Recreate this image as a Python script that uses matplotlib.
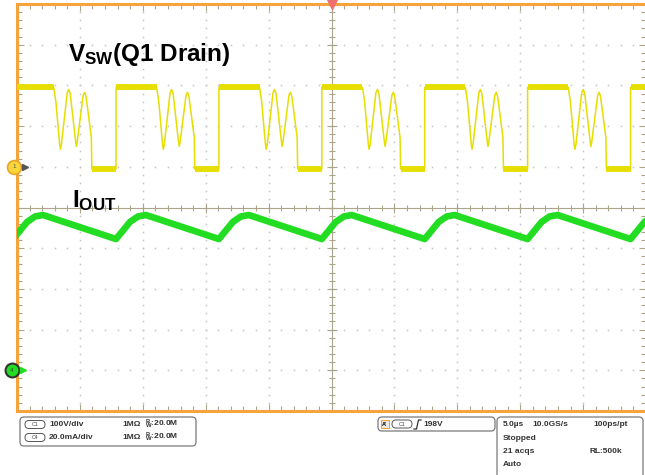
import matplotlib
matplotlib.use("Agg")
import matplotlib.pyplot as plt
from matplotlib.patches import FancyBboxPatch, Rectangle
import numpy as np

W, H = 645, 475

plt.rcParams['font.family'] = ['Liberation Sans', 'DejaVu Sans']
plt.rcParams['mathtext.fontset'] = 'custom'
plt.rcParams['mathtext.rm'] = 'Liberation Sans:bold'
plt.rcParams['mathtext.bf'] = 'Liberation Sans:bold'
plt.rcParams['mathtext.it'] = 'Liberation Sans:bold'

# scope setup (10 x 10 divisions)
TIME_SPAN = 50.0          # 5.0 us/div
C1_YLIM = (-600, 400)     # 100 V/div, ground 6 div up
C4_YLIM = (-20, 180)      # 20 mA/div, ground 1 div up

# C1: switch node voltage (V) vs time (us), one row per switching cycle
vsw_t = [-0.31, -0.31, 2.92, 3.09, 3.39, 3.45, 3.53, 3.99, 4.11, 4.23, 4.66, 4.72, 4.79, 5.26, 5.38, 5.49, 5.91, 5.95,
         7.87, 7.87, 11.10, 11.27, 11.57, 11.63, 11.71, 12.17, 12.29, 12.41, 12.84, 12.90, 12.97, 13.44, 13.56, 13.67, 14.09, 14.13,
         16.05, 16.05, 19.28, 19.45, 19.75, 19.81, 19.89, 20.35, 20.47, 20.59, 21.02, 21.08, 21.15, 21.62, 21.74, 21.85, 22.27, 22.31,
         24.23, 24.23, 27.46, 27.63, 27.93, 27.99, 28.07, 28.53, 28.65, 28.77, 29.20, 29.26, 29.33, 29.80, 29.92, 30.03, 30.45, 30.49,
         32.41, 32.41, 35.64, 35.81, 36.11, 36.17, 36.25, 36.71, 36.83, 36.95, 37.38, 37.44, 37.51, 37.98, 38.10, 38.21, 38.63, 38.67,
         40.59, 40.59, 43.82, 43.99, 44.29, 44.35, 44.43, 44.89, 45.01, 45.13, 45.56, 45.62, 45.69, 46.16, 46.28, 46.39, 46.81, 46.85,
         48.77, 48.77, 50.5]
vsw_v = [-5, 195, 195, 160, 55, 43, 55, 182, 190, 180, 62, 50, 62, 176, 183, 172, 72, -5,
         -5, 195, 195, 160, 55, 43, 55, 182, 190, 180, 62, 50, 62, 176, 183, 172, 72, -5,
         -5, 195, 195, 160, 55, 43, 55, 182, 190, 180, 62, 50, 62, 176, 183, 172, 72, -5,
         -5, 195, 195, 160, 55, 43, 55, 182, 190, 180, 62, 50, 62, 176, 183, 172, 72, -5,
         -5, 195, 195, 160, 55, 43, 55, 182, 190, 180, 62, 50, 62, 176, 183, 172, 72, -5,
         -5, 195, 195, 160, 55, 43, 55, 182, 190, 180, 62, 50, 62, 176, 183, 172, 72, -5,
         -5, 195, 195]

# C4: output current (mA) vs time (us)
iout_t = [-0.31, 0.80, 1.44, 2.07,
          7.87, 8.98, 9.62, 10.25,
          16.05, 17.16, 17.80, 18.43,
          24.23, 25.34, 25.98, 26.61,
          32.41, 33.52, 34.16, 34.79,
          40.59, 41.70, 42.34, 42.97,
          48.77, 49.88, 50.5]
iout_ma = [64.5, 72.9, 75.6, 76.3,
           64.5, 72.9, 75.6, 76.3,
           64.5, 72.9, 75.6, 76.3,
           64.5, 72.9, 75.6, 76.3,
           64.5, 72.9, 75.6, 76.3,
           64.5, 72.9, 75.6, 76.3,
           64.5, 72.9, 75.6]

YELLOW = '#E6DE00'
GREEN = '#22DD22'
ORANGE = '#F5A33A'
TAN = '#ADA48C'


def px_rect(x0, y0, x1, y1):
    return [x0 / W, 1 - y1 / H, (x1 - x0) / W, (y1 - y0) / H]


fig = plt.figure(figsize=(W / 100, H / 100), dpi=100)
fig.patch.set_facecolor('white')
rect = px_rect(17, 4, 646, 411)

# graticule
grid = fig.add_axes(rect)
grid.set_xlim(0, 10)
grid.set_ylim(0, 10)
grid.set_xticks(np.arange(0, 11, 1))
grid.set_yticks(np.arange(0, 11, 1))
grid.set_xticks(np.arange(0, 10.01, 0.2), minor=True)
grid.set_yticks(np.arange(0, 10.01, 0.2), minor=True)
grid.tick_params(which='both', direction='in', top=True, right=True,
                 labelbottom=False, labelleft=False, color=TAN, width=0.8)
grid.tick_params(which='major', length=5)
grid.tick_params(which='minor', length=3.5)
for s in grid.spines.values():
    s.set_color(ORANGE)
    s.set_linewidth(2.2)

minor = np.arange(0, 10.01, 0.2)
for k in range(1, 10):
    if k == 5:
        continue
    grid.plot([k] * len(minor), minor, ls='none', marker='s', ms=1.1,
              mec='none', color='#C4C4C4')
    grid.plot(minor, [k] * len(minor), ls='none', marker='s', ms=1.1,
              mec='none', color='#C4C4C4')
grid.axhline(5, color=TAN, lw=0.8)
grid.axvline(5, color=TAN, lw=0.8)
grid.plot(minor, [5] * len(minor), ls='none', marker='|', ms=4, mew=0.8, color=TAN)
grid.plot([5] * len(minor), minor, ls='none', marker='_', ms=4, mew=0.8, color=TAN)
grid.plot(np.arange(1, 10), [5] * 9, ls='none', marker='|', ms=7, mew=0.8, color=TAN)
grid.plot([5] * 9, np.arange(1, 10), ls='none', marker='_', ms=7, mew=0.8, color=TAN)

# channel 1
c1 = fig.add_axes(rect, facecolor='none')
c1.set_xlim(0, TIME_SPAN)
c1.set_ylim(*C1_YLIM)
c1.axis('off')
c1.plot(vsw_t, vsw_v, color=YELLOW, lw=1.1)
for i in range(len(vsw_t) - 1):
    if vsw_v[i] == vsw_v[i + 1] and vsw_t[i + 1] - vsw_t[i] > 0.5:
        c1.plot(vsw_t[i:i + 2], vsw_v[i:i + 2], color=YELLOW, lw=4.2,
                solid_capstyle='butt')
c1.plot(-0.24, 0, marker='o', ms=10, mfc='#F8D53A', mec='#EBA52A', mew=1.2,
        clip_on=False, zorder=5)
c1.text(-0.24, 0, '1', fontsize=4.5, ha='center', va='center', color='#555',
        zorder=6)
c1.plot(0.6, 0, marker='>', ms=4, color='#555555', clip_on=False, zorder=5)
c1.plot(25, 400, marker='v', ms=7, color='#F07070', clip_on=False, zorder=5)

# channel 4
c4 = fig.add_axes(rect, facecolor='none')
c4.set_xlim(0, TIME_SPAN)
c4.set_ylim(*C4_YLIM)
c4.axis('off')
c4.plot(iout_t, iout_ma, color=GREEN, lw=4.8, solid_joinstyle='round')
c4.plot(-0.4, 0, marker='o', ms=10, mfc=GREEN, mec='#333333', mew=1.5,
        clip_on=False, zorder=5)
c4.text(-0.4, 0, '4', fontsize=4.5, ha='center', va='center', color='#225522',
        zorder=6)
c4.plot(0.45, 0, marker='>', ms=5, color=GREEN, clip_on=False, zorder=5)

# labels and status panel in pixel coordinates
ui = fig.add_axes([0, 0, 1, 1], facecolor='none')
ui.set_xlim(0, W)
ui.set_ylim(H, 0)
ui.axis('off')

ui.text(68, 61, 'V$_{\\mathbf{SW}}$(Q1 Drain)', fontsize=17.5,
        fontweight='bold', va='baseline', ha='left', color='black')
ui.text(72, 207, 'I$_{\\mathbf{OUT}}$', fontsize=17.5,
        fontweight='bold', va='baseline', ha='left', color='black')


def box(x0, y0, x1, y1):
    ui.add_patch(FancyBboxPatch((x0, y0), x1 - x0, y1 - y0,
                                boxstyle='round,pad=0,rounding_size=4',
                                fc='white', ec='#7A7A7A', lw=0.9))


def pill(x, y, label):
    ui.add_patch(FancyBboxPatch((x, y - 4), 20, 8,
                                boxstyle='round,pad=0,rounding_size=4',
                                fc='white', ec='#555555', lw=0.7))
    ui.text(x + 10, y, label, fontsize=3.8, ha='center', va='center', color='#444')


def label(x, y, s):
    ui.text(x, y, s, fontsize=6, fontweight='bold', ha='left', va='center',
            color='#333333')


box(20, 417, 196, 446)
pill(25, 424.5, 'C1')
label(49, 424.5, '100V/div')
label(122, 424.5, '1MΩ')
label(145, 424.5, '$^{B}_{W}$:20.0M')
pill(25, 437.5, 'C4')
label(49, 437.5, '20.0mA/div')
label(122, 437.5, '1MΩ')
label(145, 437.5, '$^{B}_{W}$:20.0M')

box(378, 417, 495, 431)
ui.add_patch(Rectangle((381, 420), 8, 8, fc='#EAEAEA', ec=ORANGE, lw=0.8))
ui.text(385, 424, "A'", fontsize=4, fontweight='bold', ha='center', va='center')
pill(392, 424, 'C1')
ui.plot([414, 416.5, 418.5, 421], [429, 429, 420, 420], color='#333', lw=0.9)
label(423, 424, '198V')

box(497, 417, 643, 480)
label(503, 424.5, '5.0µs')
label(532, 424.5, '10.0GS/s')
label(593, 424.5, '100ps/pt')
label(503, 438, 'Stopped')
label(503, 451.5, '21 acqs')
label(590, 451.5, 'RL:500k')
label(503, 465, 'Auto')

fig.savefig('out.png', dpi=100, facecolor='white')
